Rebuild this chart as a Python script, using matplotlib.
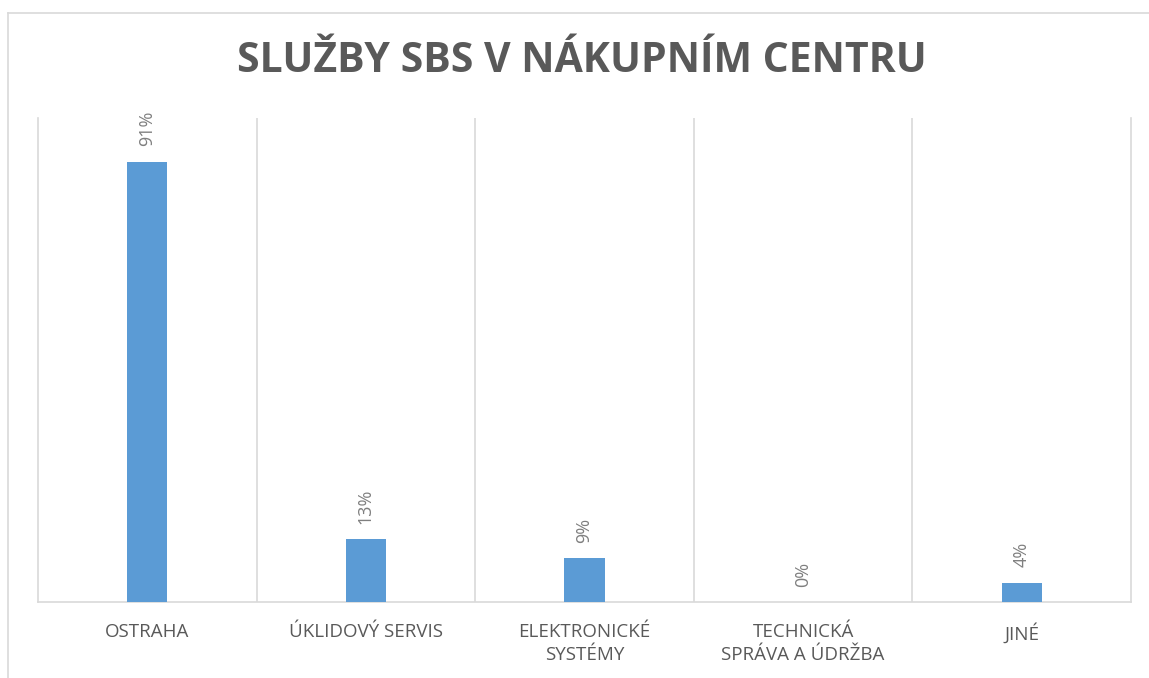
import matplotlib
matplotlib.use("Agg")
from matplotlib import pyplot as plt
from matplotlib.lines import Line2D

categories = ["OSTRAHA", "ÚKLIDOVÝ SERVIS", "ELEKTRONICKÉ\nSYSTÉMY",
              "TECHNICKÁ\nSPRÁVA A ÚDRŽBA", "JINÉ"]
values = [91, 13, 9, 0, 4]
labels = ["91%", "13%", "9%", "0%", "4%"]

plt.rcParams['font.family'] = ['Open Sans', 'DejaVu Sans']

W, H = 1149, 678
fig = plt.figure(figsize=(W / 100, H / 100), dpi=100)
fig.patch.set_facecolor('white')

# outer chart border: only top and left edges are inside the picture
fig.lines.append(Line2D([8 / W, 1], [1 - 13 / H, 1 - 13 / H], transform=fig.transFigure,
                        color='#d9d9d9', linewidth=1.2))
fig.lines.append(Line2D([8 / W, 8 / W], [0, 1 - 13 / H], transform=fig.transFigure,
                        color='#d9d9d9', linewidth=1.2))

ax = fig.add_axes([38 / W, 1 - 602 / H, (1131 - 38) / W, (602 - 118) / H])

pos = [i + 0.5 for i in range(len(values))]
ax.bar(pos, values, width=0.183, color='#5b9bd5', zorder=3)

ax.set_xlim(0, len(values))
ax.set_ylim(0, 100)

# vertical gridlines between categories
for i in range(1, len(values)):
    ax.axvline(i, color='#d9d9d9', linewidth=1.2, zorder=1)

for s in ['left', 'right', 'bottom']:
    ax.spines[s].set_color('#d9d9d9')
    ax.spines[s].set_linewidth(1.2)
ax.spines['top'].set_visible(False)

ax.set_yticks([])
ax.set_xticks(pos)
ax.set_xticklabels(categories, fontsize=13.5, color='#595959', linespacing=1.35)
ax.tick_params(axis='x', length=0, pad=15)

for p, v, lab in zip(pos, values, labels):
    ax.annotate(lab, (p, v), xytext=(0, 11), textcoords='offset points',
                rotation=90, ha='center', va='bottom', fontsize=13,
                color='#7f7f7f')

fig.text(582 / W, 1 - 62 / H, "SLUŽBY SBS V NÁKUPNÍM CENTRU", ha='center',
         va='center', fontsize=29.5, fontweight='bold', color='#595959')

fig.savefig("out.png", dpi=100, facecolor='white')
